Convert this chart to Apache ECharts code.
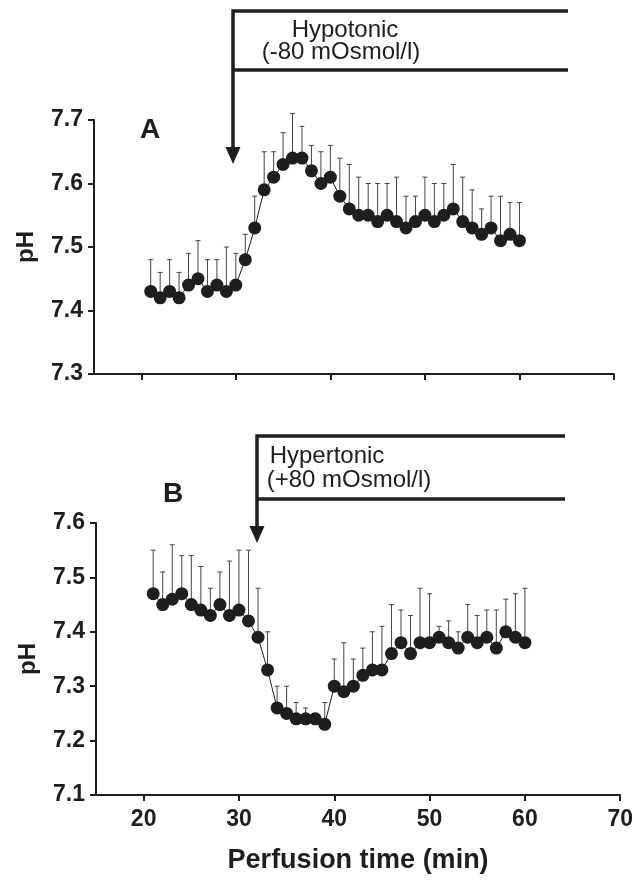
<!DOCTYPE html>
<html>
<head>
<meta charset="utf-8">
<script src="https://cdn.jsdelivr.net/npm/echarts@6/dist/echarts.min.js"></script>
<style>
  html, body { margin: 0; padding: 0; background: #fff; }
  #chart { width: 636px; height: 881px; }
</style>
</head>
<body>
<div id="chart"></div>
<script>
// perfusion time, one sample per minute
const minutes = [21, 22, 23, 24, 25, 26, 27, 28, 29, 30, 31, 32, 33, 34, 35, 36, 37, 38, 39, 40,
  41, 42, 43, 44, 45, 46, 47, 48, 49, 50, 51, 52, 53, 54, 55, 56, 57, 58, 59, 60]

// panel A - hypotonic
const phA = [7.43, 7.42, 7.43, 7.42, 7.44, 7.45, 7.43, 7.44, 7.43, 7.44, 7.48, 7.53, 7.59, 7.61, 7.63, 7.64, 7.64, 7.62, 7.60, 7.61,
  7.58, 7.56, 7.55, 7.55, 7.54, 7.55, 7.54, 7.53, 7.54, 7.55, 7.54, 7.55, 7.56, 7.54, 7.53, 7.52, 7.53, 7.51, 7.52, 7.51]
const errTopA = [7.48, 7.46, 7.48, 7.46, 7.49, 7.51, 7.48, 7.48, 7.50, 7.49, 7.52, 7.58, 7.65, 7.65, 7.68, 7.71, 7.69, 7.66, 7.65, 7.66,
  7.64, 7.63, 7.61, 7.60, 7.60, 7.60, 7.61, 7.58, 7.58, 7.61, 7.60, 7.60, 7.63, 7.61, 7.59, 7.56, 7.58, 7.58, 7.57, 7.57]

// panel B - hypertonic
const phB = [7.47, 7.45, 7.46, 7.47, 7.45, 7.44, 7.43, 7.45, 7.43, 7.44, 7.42, 7.39, 7.33, 7.26, 7.25, 7.24, 7.24, 7.24, 7.23, 7.30,
  7.29, 7.30, 7.32, 7.33, 7.33, 7.36, 7.38, 7.36, 7.38, 7.38, 7.39, 7.38, 7.37, 7.39, 7.38, 7.39, 7.37, 7.40, 7.39, 7.38]
const errTopB = [7.55, 7.51, 7.56, 7.54, 7.54, 7.52, 7.48, 7.51, 7.53, 7.55, 7.55, 7.48, 7.40, 7.30, 7.30, 7.27, 7.26, 7.25, 7.27, 7.35,
  7.38, 7.35, 7.37, 7.40, 7.41, 7.45, 7.44, 7.43, 7.48, 7.47, 7.41, 7.42, 7.40, 7.45, 7.43, 7.44, 7.44, 7.46, 7.47, 7.48]

const xTicks = [20, 30, 40, 50, 60, 70]
const yTicksA = [7.3, 7.4, 7.5, 7.6, 7.7]
const yTicksB = [7.1, 7.2, 7.3, 7.4, 7.5, 7.6]

const ink = '#1e1e1e'
const font = '"Liberation Sans", Arial, sans-serif'

function pairs (ys) {
  return minutes.map((m, i) => [m, ys[i]])
}
function errData (ys, tops) {
  return minutes.map((m, i) => [m, ys[i], tops[i]])
}

function errorBars (params, api) {
  const p0 = api.coord([api.value(0), api.value(1)])
  const p1 = api.coord([api.value(0), api.value(2)])
  const style = { stroke: '#444', lineWidth: 1 }
  return {
    type: 'group',
    children: [
      { type: 'line', shape: { x1: p0[0], y1: p0[1], x2: p1[0], y2: p1[1] }, style },
      { type: 'line', shape: { x1: p1[0] - 2.5, y1: p1[1], x2: p1[0] + 2.5, y2: p1[1] }, style }
    ]
  }
}

function xAxis (grid, showLabels) {
  return {
    type: 'value',
    gridIndex: grid,
    min: 15,
    max: 70,
    axisLine: { show: true, lineStyle: { color: ink, width: 2 } },
    axisTick: { show: true, inside: false, length: 6, customValues: xTicks, lineStyle: { color: ink, width: 2 } },
    axisLabel: {
      show: showLabels,
      customValues: xTicks,
      margin: 13,
      color: ink,
      fontFamily: font,
      fontWeight: 'bold',
      fontSize: 23
    },
    splitLine: { show: false },
    name: showLabels ? 'Perfusion time (min)' : '',
    nameLocation: 'middle',
    nameGap: 52,
    nameTextStyle: { color: ink, fontFamily: font, fontWeight: 'bold', fontSize: 27 }
  }
}

function yAxis (grid, ticks) {
  return {
    type: 'value',
    gridIndex: grid,
    min: ticks[0],
    max: ticks[ticks.length - 1],
    axisLine: { show: true, lineStyle: { color: ink, width: 2 } },
    axisTick: { show: true, length: 6, customValues: ticks, lineStyle: { color: ink, width: 2 } },
    axisLabel: {
      customValues: ticks,
      formatter: v => v.toFixed(1),
      margin: 11,
      color: ink,
      fontFamily: font,
      fontWeight: 'bold',
      fontSize: 23
    },
    splitLine: { show: false },
    name: 'pH',
    nameLocation: 'middle',
    nameGap: 56,
    nameRotate: 90,
    nameTextStyle: { color: ink, fontFamily: font, fontWeight: 'bold', fontSize: 24 }
  }
}

function meanSeries (idx, ys) {
  return {
    type: 'line',
    xAxisIndex: idx,
    yAxisIndex: idx,
    data: pairs(ys),
    symbol: 'circle',
    symbolSize: 13,
    itemStyle: { color: ink },
    lineStyle: { color: ink, width: 1 },
    z: 3,
    animation: false
  }
}

function errSeries (idx, ys, tops) {
  return {
    type: 'custom',
    xAxisIndex: idx,
    yAxisIndex: idx,
    data: errData(ys, tops),
    renderItem: errorBars,
    z: 2,
    animation: false
  }
}

const bold = { fontFamily: font, fontWeight: 'bold', fontSize: 28, fill: ink }
const plain = { fontFamily: font, fontSize: 24, fill: ink, textAlign: 'center', textVerticalAlign: 'middle' }
const thick = { stroke: ink, lineWidth: 3.5 }

const chart = echarts.init(document.getElementById('chart'))
chart.setOption({
  backgroundColor: '#fff',
  animation: false,
  grid: [
    { left: 94, right: 22, top: 120, bottom: 507 },
    { left: 96, right: 14, top: 523, bottom: 86 }
  ],
  xAxis: [xAxis(0, false), xAxis(1, true)],
  yAxis: [yAxis(0, yTicksA), yAxis(1, yTicksB)],
  series: [
    errSeries(0, phA, errTopA),
    meanSeries(0, phA),
    errSeries(1, phB, errTopB),
    meanSeries(1, phB)
  ],
  graphic: [
    // panel A treatment bracket
    { type: 'polyline', shape: { points: [[568, 11], [233, 11], [233, 150]] }, style: thick },
    { type: 'line', shape: { x1: 233, y1: 70, x2: 568, y2: 70 }, style: thick },
    { type: 'polygon', shape: { points: [[225.5, 147], [240.5, 147], [233, 164]] }, style: { fill: ink } },
    { type: 'text', x: 345, y: 30, style: Object.assign({ text: 'Hypotonic' }, plain) },
    { type: 'text', x: 341, y: 52, style: Object.assign({ text: '(-80 mOsmol/l)' }, plain) },
    { type: 'text', x: 150, y: 130, style: Object.assign({ text: 'A', textAlign: 'center', textVerticalAlign: 'middle' }, bold) },
    // panel B treatment bracket
    { type: 'polyline', shape: { points: [[565, 436], [257, 436], [257, 528]] }, style: thick },
    { type: 'line', shape: { x1: 257, y1: 499, x2: 565, y2: 499 }, style: thick },
    { type: 'polygon', shape: { points: [[249.5, 526], [264.5, 526], [257, 543]] }, style: { fill: ink } },
    { type: 'text', x: 327, y: 456, style: Object.assign({ text: 'Hypertonic' }, plain) },
    { type: 'text', x: 349, y: 480, style: Object.assign({ text: '(+80 mOsmol/l)' }, plain) },
    { type: 'text', x: 173, y: 494, style: Object.assign({ text: 'B', textAlign: 'center', textVerticalAlign: 'middle' }, bold) }
  ]
})
</script>
</body>
</html>
